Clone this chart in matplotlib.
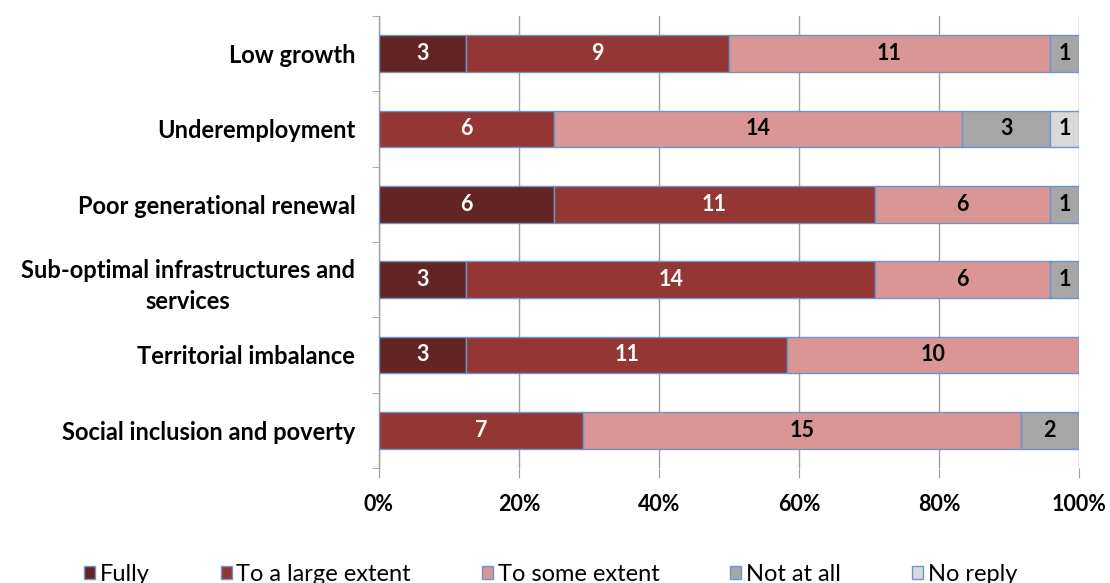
import matplotlib
matplotlib.use("Agg")
import matplotlib.pyplot as plt
import numpy as np
from matplotlib.ticker import FixedLocator
from matplotlib.patches import Patch

categories = ["Low growth", "Underemployment", "Poor generational renewal",
              "Sub-optimal infrastructures and\nservices", "Territorial imbalance",
              "Social inclusion and poverty"]
series_names = ["Fully", "To a large extent", "To some extent", "Not at all", "No reply"]
fully = [3, 0, 6, 3, 3, 0]
large = [9, 6, 11, 14, 11, 7]
some = [11, 14, 6, 6, 10, 15]
not_at_all = [1, 3, 1, 1, 0, 2]
no_reply = [0, 1, 0, 0, 0, 0]
xtick_labels = ["0%", "20%", "40%", "60%", "80%", "100%"]

colors = ["#632523", "#943634", "#D99694", "#A6A6A6", "#D9D9D9"]
text_colors = ["white", "white", "black", "black", "black"]
edge = "#6F94C8"

plt.rcParams['font.family'] = ['Lato', 'DejaVu Sans']

fig = plt.figure(figsize=(11.1, 5.83), dpi=100)
ax = fig.add_axes([0.3414, 0.1973, 0.9721 - 0.3414, 0.9726 - 0.1973])

data = np.array([fully, large, some, not_at_all, no_reply], dtype=float)
totals = data.sum(axis=0)
pct = data / totals * 100
y = np.arange(len(categories))
left = np.zeros(len(categories))
for i, name in enumerate(series_names):
    bars = ax.barh(y, pct[i], left=left, height=0.49, color=colors[i],
                   edgecolor=edge, linewidth=1.0, zorder=3, label=name)
    for j, b in enumerate(bars):
        if data[i, j] > 0:
            ax.text(left[j] + pct[i, j] / 2, y[j], f"{int(data[i, j])}",
                    ha="center", va="center", color=text_colors[i],
                    fontsize=15.5, fontweight="bold", zorder=4)
    left += pct[i]

ax.set_xlim(0, 100)
ax.set_ylim(len(categories) - 0.5, -0.5)
ax.set_xticks(np.arange(0, 101, 20))
ax.set_xticklabels(xtick_labels, fontsize=15.5, fontweight="bold")
ax.set_yticks(y)
ax.set_yticklabels(categories, fontsize=17, fontweight="bold", multialignment="center",
                   linespacing=1.42)
ax.yaxis.set_minor_locator(FixedLocator(np.arange(-0.5, len(categories), 1)))
ax.tick_params(axis="y", which="major", length=0, pad=17)
ax.tick_params(axis="y", which="minor", length=5, color="#A0A0A0", direction="out")
ax.tick_params(axis="x", which="major", length=7, color="#A0A0A0", direction="out", pad=12)
ax.grid(axis="x", color="#A0A0A0", linewidth=1.0, zorder=0)
for s in ["top", "right", "bottom"]:
    ax.spines[s].set_visible(False)
ax.spines["left"].set_color("#A0A0A0")
ax.spines["left"].set_linewidth(1.0)

handles = [Patch(facecolor=c, edgecolor=edge, linewidth=1.0) for c in colors]
fig.legend(handles, series_names, loc="lower center", bbox_to_anchor=(0.496, -0.04),
           ncol=5, frameon=False, fontsize=17, handlelength=0.47, handleheight=0.47,
           handletextpad=0.2, columnspacing=3.0)

fig.savefig("out.png", dpi=100)
